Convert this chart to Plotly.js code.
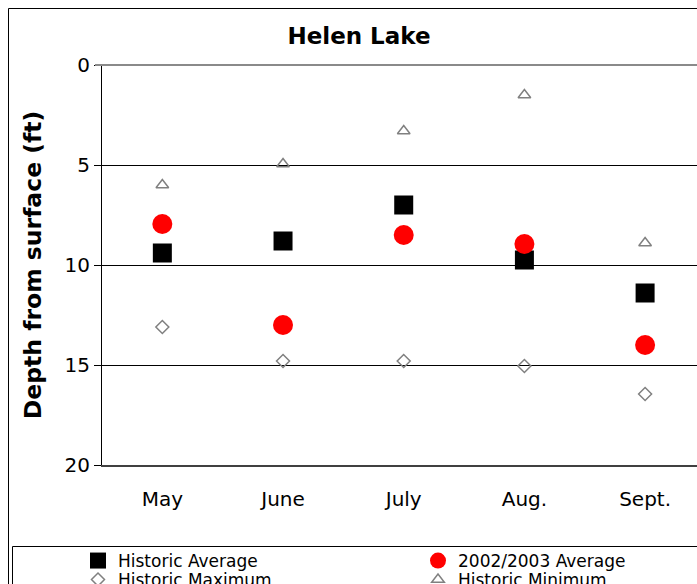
<!DOCTYPE html>
<html>
<head>
<meta charset="utf-8">
<script src="https://cdn.plot.ly/plotly-3.0.1.min.js"></script>
<style>html,body{margin:0;padding:0;background:#fff;overflow:hidden;}</style>
</head>
<body>
<div id="chart" style="width:697px;height:584px;"></div>
<script>
const months = ["May", "June", "July", "Aug.", "Sept."];
const historicAverage = [9.4, 8.8, 7.0, 9.75, 11.4];
const average2002_2003 = [7.95, 13.0, 8.5, 8.95, 14.0];
const historicMaximum = [13.1, 14.8, 14.8, 15.05, 16.45];
const historicMinimum = [6.0, 4.95, 3.3, 1.5, 8.9];
const yTicks = [0, 5, 10, 15, 20];

const FONT = "'DejaVu Sans', Arial, sans-serif";

const traces = [
  {name: "Historic Average", legend: "legend", x: months, y: historicAverage, mode: "markers", type: "scatter",
   marker: {symbol: "square", size: 19, color: "#000000", line: {width: 0}}},
  {name: "2002/2003 Average", legend: "legend2", x: months, y: average2002_2003, mode: "markers", type: "scatter",
   marker: {symbol: "circle", size: 20, color: "#ff0000", line: {width: 0}}},
  {name: "Historic Maximum", legend: "legend3", x: months, y: historicMaximum, mode: "markers", type: "scatter",
   marker: {symbol: "diamond-open", size: 10, color: "#808080", line: {width: 1.5, color: "#808080"}}},
  {name: "Historic Minimum", legend: "legend4", x: months, y: historicMinimum, mode: "markers", type: "scatter",
   marker: {symbol: "triangle-up-open", size: 11, color: "#808080", line: {width: 1.5, color: "#808080"}}}
];

const L = 102, R = 0, T = 65, B = 119, W = 697, H = 584;
const pw = W - L - R, ph = H - T - B;
const px = v => (v - L) / pw;
const py = v => 1 - (v - T) / ph;

function legendAt(xpx, ypx) {
  return {orientation: "h", xref: "container", yref: "container", x: xpx / W, y: 1 - ypx / H,
          xanchor: "left", yanchor: "middle", bgcolor: "rgba(0,0,0,0)", borderwidth: 0,
          font: {family: FONT, size: 17, color: "#000"}, itemclick: false, itemdoubleclick: false};
}

const layout = {
  width: W, height: H,
  margin: {l: L, r: R, t: T, b: B, pad: 0},
  paper_bgcolor: "#ffffff", plot_bgcolor: "#ffffff",
  font: {family: FONT, color: "#000000"},
  title: {text: "<b>Helen Lake</b>", font: {family: FONT, size: 23, color: "#000"},
          x: 359 / W, xref: "container", xanchor: "center", y: 1 - 36 / H, yref: "container", yanchor: "middle"},
  xaxis: {type: "category", categoryarray: months, range: [-0.5, 4.43], showgrid: false, zeroline: false,
          showline: true, linecolor: "#404040", linewidth: 1.5, ticks: "", ticklabelstandoff: 15,
          tickfont: {family: FONT, size: 20, color: "#000"}, fixedrange: true},
  yaxis: {range: [20, 0], tickvals: yTicks, ticktext: yTicks.map(String), showgrid: true, gridcolor: "#000000", gridwidth: 1,
          zeroline: false, showline: true, linecolor: "#000000", linewidth: 1, ticks: "outside", ticklen: 7,
          tickcolor: "#000000", tickwidth: 1, tickfont: {family: FONT, size: 20, color: "#000"},
          title: {text: "<b>Depth from surface (ft)</b>", font: {family: FONT, size: 23.5, color: "#000"}, standoff: 16},
          fixedrange: true},
  showlegend: true,
  legend: legendAt(78, 561),
  legend2: legendAt(418, 561),
  legend3: legendAt(78, 580),
  legend4: legendAt(418, 580),
  shapes: [
    {type: "rect", xref: "paper", yref: "paper", x0: px(8.5), x1: px(740), y0: py(8.5), y1: py(620),
     line: {color: "#000000", width: 1}, fillcolor: "rgba(0,0,0,0)", layer: "below"},
    {type: "rect", xref: "paper", yref: "paper", x0: px(12.5), x1: px(740), y0: py(546.5), y1: py(620),
     line: {color: "#000000", width: 1}, fillcolor: "rgba(0,0,0,0)", layer: "below"},
    {type: "line", xref: "paper", yref: "paper", x0: px(95), x1: 1, y0: 1, y1: 1,
     line: {color: "#8a8a8a", width: 2}}
  ]
};

Plotly.newPlot("chart", traces, layout, {displayModeBar: false, staticPlot: true});
</script>
</body>
</html>
